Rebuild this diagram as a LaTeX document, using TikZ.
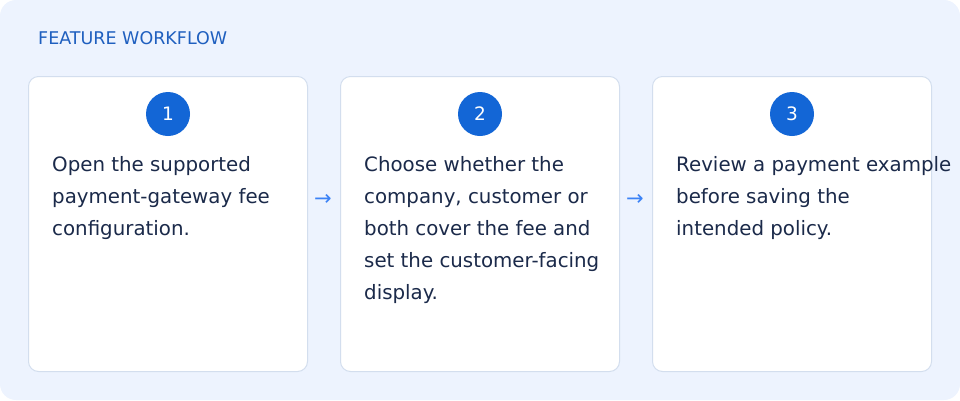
\documentclass[tikz,border=0pt]{standalone}
\usepackage{fontspec}
\setmainfont{DejaVu Sans}
\usetikzlibrary{positioning}
\definecolor{panelbg}{HTML}{EDF3FE}
\definecolor{cardline}{HTML}{D3DEEE}
\definecolor{stepblue}{HTML}{1366D6}
\definecolor{titleblue}{HTML}{1F5FBF}
\definecolor{textnavy}{HTML}{1B2A4A}
\definecolor{arrowblue}{HTML}{3B82F6}

\begin{document}
\begin{tikzpicture}[
    x=1pt, y=-1pt,
    card/.style={
        rectangle,
        rounded corners=10pt,
        draw=cardline,
        fill=white,
        line width=1pt,
        minimum width=279pt,
        minimum height=295pt,
        anchor=north west
    },
    badge/.style={
        circle,
        fill=stepblue,
        text=white,
        minimum size=44pt,
        inner sep=0pt,
        font=\fontsize{18.5}{20}\selectfont
    },
    steptext/.style={
        anchor=north west,
        align=left,
        inner sep=0pt,
        text=textnavy,
        font=\fontsize{19.8}{32}\selectfont
    },
    flow/.style={
        text=arrowblue,
        font=\fontsize{21}{22}\selectfont
    }
]

% Panel
\path[fill=panelbg, rounded corners=16pt] (0,0) rectangle (960,400);
\node[anchor=west, text=titleblue, font=\fontsize{17.5}{18}\selectfont, inner sep=0pt] (title) at (38,38) {FEATURE WORKFLOW};

% Cards
\node[card] (card1) at (28,76) {};
\node[card] (card2) at (340,76) {};
\node[card] (card3) at (652,76) {};

% Step badges
\node[badge] (step1) at (168,114) {1};
\node[badge] (step2) at (480,114) {2};
\node[badge] (step3) at (792,114) {3};

% Step texts
\node[steptext] (text1) at (52,156) {Open the supported\\payment-gateway fee\\configuration.};
\node[steptext] (text2) at (364,156) {Choose whether the\\company, customer or\\both cover the fee and\\set the customer-facing\\display.};
\node[steptext] (text3) at (676,156) {Review a payment example\\before saving the\\intended policy.};

% Arrows between cards
\node[flow] (arrow1) at (323,200) {→};
\node[flow] (arrow2) at (635,200) {→};

\end{tikzpicture}
\end{document}
